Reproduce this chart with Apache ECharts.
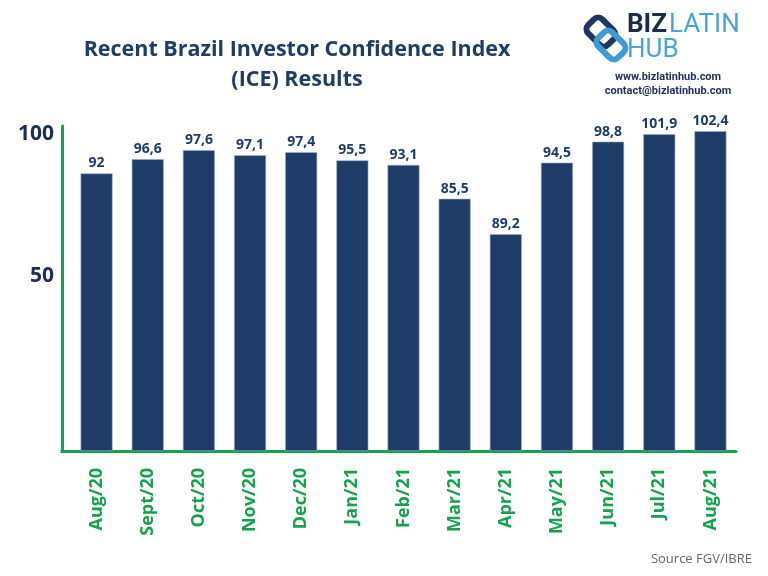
<!DOCTYPE html>
<html>
<head>
<meta charset="utf-8">
<script src="https://cdn.jsdelivr.net/npm/echarts@6/dist/echarts.min.js"></script>
<style>html,body{margin:0;padding:0;background:#fff}#c{width:768px;height:576px}</style>
</head>
<body>
<div id="c"></div>
<script>
// Categories (months)
const months = ['Aug/20','Sept/20','Oct/20','Nov/20','Dec/20','Jan/21','Feb/21','Mar/21','Apr/21','May/21','Jun/21','Jul/21','Aug/21'];
// Printed index values (labels above bars)
const iceValues = [92, 96.6, 97.6, 97.1, 97.4, 95.5, 93.1, 85.5, 89.2, 94.5, 98.8, 101.9, 102.4];
// Bar heights as drawn, read against the printed 50 / 100 axis
const barHeights = [86.1, 91.1, 94.3, 92.5, 93.6, 90.7, 89.1, 77.2, 64.7, 89.9, 97.3, 99.9, 101.0];
// Y tick labels shown
const yTicks = [50, 100];
// The printed axis is cut: its baseline sits at -11.6 on the printed scale
const axisBase = -11.6;
const axisTop = 102.8;

const navy = '#1f3c69';
const green = '#14a24c';

const chart = echarts.init(document.getElementById('c'), null, {renderer: 'canvas'});
chart.setOption({
  backgroundColor: '#ffffff',
  animation: false,
  title: {
    text: 'Recent Brazil Investor Confidence Index\n(ICE) Results',
    left: 292, top: 30, textAlign: 'center',
    textStyle: {fontFamily: 'Open Sans', fontWeight: 'bold', fontSize: 21.5, color: navy, lineHeight: 30}
  },
  grid: {left: 71, right: 32, top: 126, bottom: 125},
  xAxis: {
    type: 'category', data: months,
    axisLine: {onZero: false, lineStyle: {color: green, width: 3}},
    axisTick: {show: false},
    axisLabel: {rotate: 90, margin: 17, color: green, fontFamily: 'Open Sans', fontWeight: 'bold', fontSize: 18}
  },
  yAxis: {
    type: 'value', min: 0, max: axisTop - axisBase, offset: 9,
    axisLine: {show: true, lineStyle: {color: green, width: 3}},
    axisTick: {show: false},
    splitLine: {show: false},
    axisLabel: {
      customValues: yTicks.map(v => v - axisBase),
      formatter: v => String(Math.round(v + axisBase)),
      margin: 8, color: '#1b2d5a', fontFamily: 'Open Sans', fontWeight: 'bold', fontSize: 21
    }
  },
  series: [{
    type: 'bar', data: barHeights.map(v => v - axisBase), barWidth: 32,
    itemStyle: {color: navy, borderColor: '#9fb0c8', borderWidth: 0.6},
    label: {
      show: true, position: 'top', distance: 3,
      formatter: p => String(iceValues[p.dataIndex]).replace('.', ','),
      color: navy, fontFamily: 'Open Sans', fontWeight: 'bold', fontSize: 14
    }
  }],
  graphic: [
    {type: 'line', shape: {x1: 60.5, y1: 451.5, x2: 72, y2: 451.5}, style: {stroke: green, lineWidth: 3}},
    // logo icon
    {type: 'rect', x: 601, y: 32, rotation: Math.PI/4, shape: {x: -10, y: -14, width: 20, height: 28, r: 6}, style: {fill: 'none', stroke: '#1f3562', lineWidth: 6}},
    {type: 'rect', x: 611, y: 45, rotation: Math.PI/4, shape: {x: -10, y: -14, width: 20, height: 28, r: 6}, style: {fill: 'none', stroke: '#3f9ad8', lineWidth: 6}},
    {type: 'text', left: 627, top: 12, style: {text: 'BIZ', fontFamily: 'Roboto', fontWeight: 'bold', fontSize: 26, fill: '#1a2a4a'}},
    {type: 'text', left: 669, top: 12, style: {text: 'LATIN', fontFamily: 'Roboto', fontWeight: 'normal', fontSize: 26, fill: '#4aa3e0'}},
    {type: 'text', left: 627, top: 37, style: {text: 'HUB', fontFamily: 'Roboto', fontWeight: 'normal', fontSize: 26, fill: '#4aa3e0'}},
    {type: 'text', x: 668, y: 77, style: {text: 'www.bizlatinhub.com', align: 'center', verticalAlign: 'middle', fontFamily: 'Roboto', fontWeight: 'bold', fontSize: 11, fill: '#1f2f5c'}},
    {type: 'text', x: 668, y: 91, style: {text: 'contact@bizlatinhub.com', align: 'center', verticalAlign: 'middle', fontFamily: 'Roboto', fontWeight: 'bold', fontSize: 11, fill: '#1f2f5c'}},
    {type: 'text', x: 752, y: 559, style: {text: 'Source FGV/IBRE', align: 'right', verticalAlign: 'middle', fontFamily: 'Open Sans', fontSize: 13, fill: '#666666'}}
  ]
});
</script>
</body>
</html>
